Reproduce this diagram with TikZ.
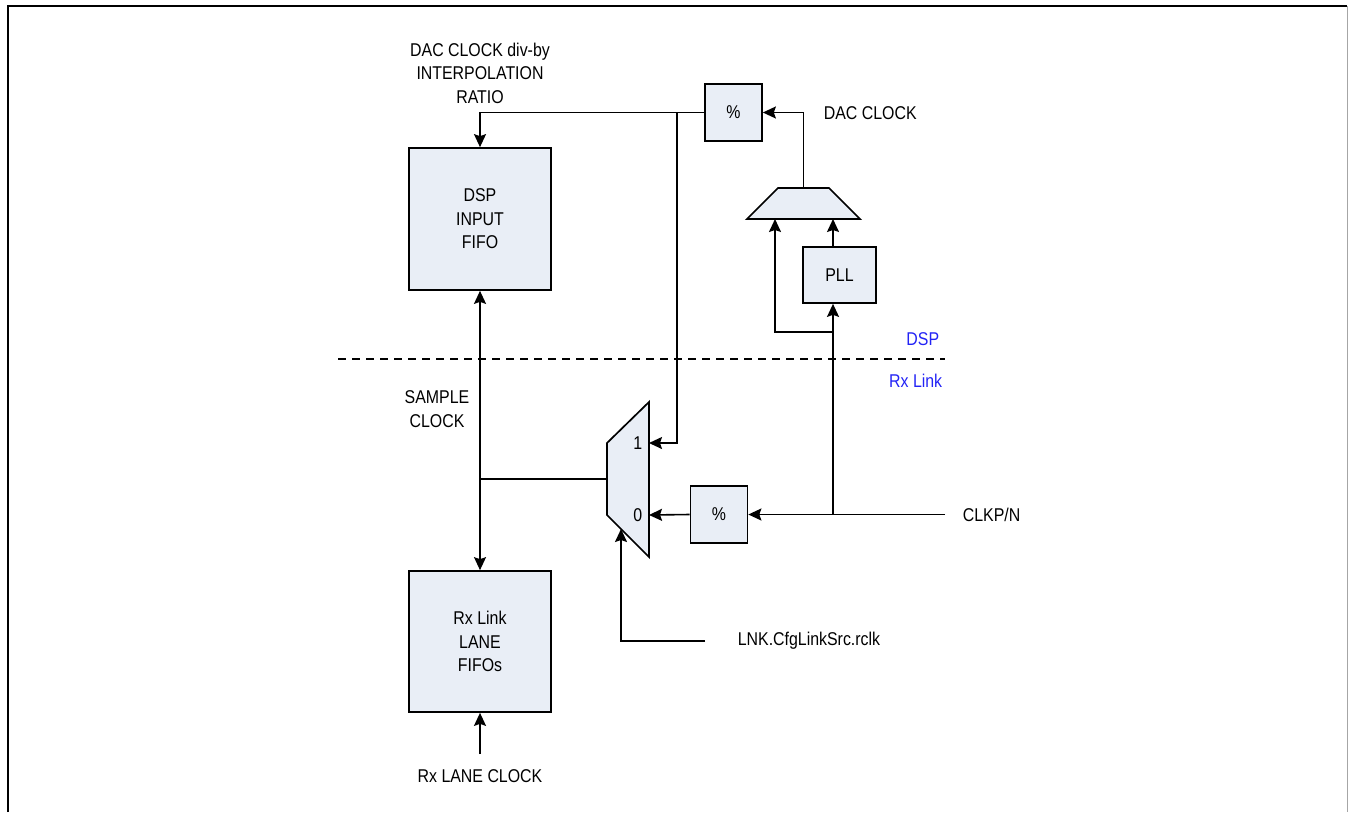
\documentclass[tikz,border=0pt]{standalone}
\usepackage{fontspec}
\setmainfont{Liberation Sans}[FakeStretch=0.86]
\usepackage{xcolor}
\usetikzlibrary{arrows.meta}
\definecolor{blkfill}{RGB}{233,238,246}
\definecolor{zoneblue}{RGB}{35,35,245}

\begin{document}
\begin{tikzpicture}[x=1pt, y=-1pt, >={Stealth[length=13pt, width=12pt, inset=2pt]},
    line width=1.6pt,
    lbl/.style={inner sep=0pt, align=center, font=\fontsize{18.5pt}{23.5pt}\selectfont},
    blk/.style={lbl, draw, fill=blkfill, line width=1.7pt},
    zone/.style={lbl, text=zoneblue}]
    \useasboundingbox (0,0) rectangle (1349,812);

    % Marco
    \draw[gray!70, line width=1.2pt] (1347.5,6) -- (1347.5,812);
    \draw[line width=2.2pt] (8,812) -- (8,6) -- (1347,6);

    % Bloques
    \node[blk, minimum width=142pt, minimum height=142pt] (fifo) at (480,219) {DSP\\INPUT\\FIFO};
    \node[blk, minimum width=142pt, minimum height=141pt] (lanes) at (480,641.5) {Rx Link\\LANE\\FIFOs};
    \node[blk, minimum size=57pt] (divtop) at (733.5,112.5) {\%};
    \node[blk, minimum size=57pt] (divbot) at (719,514.5) {\%};
    \node[blk, minimum width=73pt, minimum height=56pt] (pll) at (839.5,275) {PLL};

    % Multiplexores
    \draw[fill=blkfill, line width=1.7pt] (778,188) -- (829,188) -- (860,219) -- (747,219) -- cycle;
    \coordinate (dmuxout) at (803.5,188);
    \coordinate (dmuxa) at (775,219);
    \coordinate (dmuxb) at (833,219);
    \draw[fill=blkfill, line width=1.7pt] (607,443) -- (649,402) -- (649,557) -- (607,515) -- cycle;
    \coordinate (smux1) at (649,443);
    \coordinate (smux0) at (649,515);
    \coordinate (smuxout) at (607,479);
    \coordinate (smuxsel) at (621,529);
    \node[lbl, anchor=east] (one) at (643,443) {1};
    \node[lbl, anchor=east] (zero) at (643,515) {0};

    % Puntos de conexion
    \coordinate (tap) at (677,112.5);
    \coordinate (clkin) at (945,514.5);
    \coordinate (clkv) at (833,514.5);
    \coordinate (clkbr) at (833,332);
    \coordinate (lnk) at (705,641);
    \coordinate (lanein) at (480,754);

    % Conexiones
    \draw[->] (divtop.west) -| (fifo.north);
    \draw[->] (tap) |- (smux1);
    \draw[->] (dmuxout) |- (divtop.east);
    \draw[->] (clkin) -- (divbot.east);
    \draw[->] (divbot.west) -- (smux0);
    \draw[->] (clkv) -- (clkv |- pll.south);
    \draw[->] (clkv |- pll.north) -- (dmuxb);
    \draw[->] (clkbr) -| (dmuxa);
    \draw (smuxout) -- (smuxout -| fifo.south);
    \draw[<->] (fifo.south) -- (lanes.north);
    \draw[->] (lnk) -| (smuxsel);
    \draw[->] (lanein) -- (lanes.south);

    % Separacion DSP / Rx Link
    \draw[dash pattern=on 8pt off 6pt] (338,359) -- (945,359);

    % Etiquetas
    \node[lbl] (ratio) at (480,73) {DAC CLOCK div-by\\INTERPOLATION\\RATIO};
    \node[lbl, anchor=west] (dacclk) at (823,113) {DAC CLOCK};
    \node[zone, anchor=east] (dsp) at (940,339) {DSP};
    \node[zone, anchor=east] (rxlink) at (943,381) {Rx Link};
    \node[lbl] (sample) at (437,409) {SAMPLE\\CLOCK};
    \node[lbl, anchor=west] (clk) at (962,514.5) {CLKP/N};
    \node[lbl, anchor=west] (lnksrc) at (737,641) {LNK.CfgLinkSrc.rclk};
    \node[lbl] (laneclk) at (480,776) {Rx LANE CLOCK};
\end{tikzpicture}
\end{document}
